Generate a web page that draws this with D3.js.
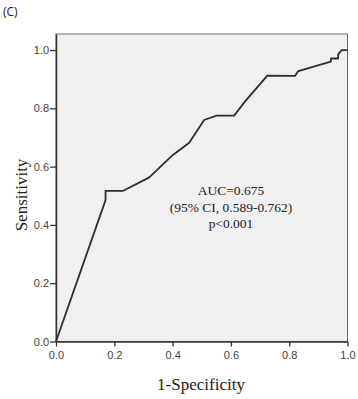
<!DOCTYPE html>
<html>
<head>
<meta charset="utf-8">
<script src="https://cdn.jsdelivr.net/npm/d3@7"></script>
<style>
  html, body { margin: 0; padding: 0; background: #fff; }
  svg { display: block; }
</style>
</head>
<body>
<svg id="chart" width="358" height="399"></svg>
<script>
// ROC curve points (1-specificity, sensitivity)
const fpr = [0, 0.170, 0.170, 0.231, 0.320, 0.401, 0.457, 0.508, 0.551, 0.611, 0.648, 0.725, 0.820, 0.831, 0.943, 0.943, 0.968, 0.968, 0.980, 1.0];
const tpr = [0, 0.485, 0.517, 0.517, 0.563, 0.640, 0.682, 0.760, 0.775, 0.775, 0.823, 0.912, 0.911, 0.928, 0.960, 0.971, 0.971, 0.985, 1.0, 1.0];
const xTicks = [0, 0.2, 0.4, 0.6, 0.8, 1.0];
const yTicks = [0, 0.2, 0.4, 0.6, 0.8, 1.0];
const annot = ["AUC=0.675", "(95% CI, 0.589-0.762)", "p<0.001"];

const W = 358, H = 399;
const m = { top: 34, right: 10.5, bottom: 57.5, left: 56 };
const iW = W - m.left - m.right;
const iH = H - m.top - m.bottom;

const svg = d3.select("#chart");
const g = svg.append("g").attr("transform", `translate(${m.left},${m.top})`);

const x = d3.scaleLinear().domain([0, 1]).range([0, iW]);
// frame runs a bit above 1.0, like the SPSS output
const y = d3.scaleLinear().domain([0, 1.055]).range([iH, 0]);

// plot background + frame
g.append("rect")
  .attr("x", 0).attr("y", 0).attr("width", iW).attr("height", iH)
  .attr("fill", "#f0f0f0").attr("stroke", "#6a6a6a").attr("stroke-width", 1);

// curve
const pts = fpr.map((v, i) => ({ x: v, y: tpr[i] }));
g.append("path").datum(pts)
  .attr("fill", "none").attr("stroke", "#2e2e2e").attr("stroke-width", 1.8)
  .attr("stroke-linejoin", "round")
  .attr("d", d3.line().x(d => x(d.x)).y(d => y(d.y)));

// axes
g.append("g")
  .attr("transform", `translate(0,${iH})`)
  .call(d3.axisBottom(x).tickValues(xTicks).tickFormat(d3.format(".1f")).tickSize(5).tickSizeOuter(0))
  .call(ax => {
    ax.select(".domain").attr("stroke", "#333").attr("stroke-width", 1.5);
    ax.selectAll(".tick line").attr("stroke", "#333").attr("stroke-width", 1.3);
    ax.selectAll(".tick text").style("fill", "#444").style("font-size", "11px")
      .style("font-family", "'Liberation Sans', Arial, sans-serif").attr("dy", "0.9em");
  });

g.append("g")
  .call(d3.axisLeft(y).tickValues(yTicks).tickFormat(d3.format(".1f")).tickSize(6).tickSizeOuter(0))
  .call(ax => {
    ax.select(".domain").attr("stroke", "#333").attr("stroke-width", 1.5);
    ax.selectAll(".tick line").attr("stroke", "#333").attr("stroke-width", 1.3);
    ax.selectAll(".tick text").style("fill", "#444").style("font-size", "11px")
      .style("font-family", "'Liberation Sans', Arial, sans-serif").attr("x", -7);
  });

// axis titles
svg.append("text")
  .attr("x", 201).attr("y", 390)
  .attr("text-anchor", "middle")
  .style("font-family", "'Liberation Serif', 'Times New Roman', serif").style("font-size", "17px").style("fill", "#222")
  .text("1-Specificity");

svg.append("text")
  .attr("transform", "translate(27,195) rotate(-90)")
  .attr("text-anchor", "middle")
  .style("font-family", "'Liberation Serif', 'Times New Roman', serif").style("font-size", "17px").style("fill", "#222")
  .text("Sensitivity");

// annotation
annot.forEach((t, i) => {
  svg.append("text")
    .attr("x", 231).attr("y", 195 + i * 16.7)
    .attr("text-anchor", "middle")
    .style("font-family", "'Liberation Serif', 'Times New Roman', serif").style("font-size", "13.5px").style("fill", "#222")
    .text(t);
});

// panel label
svg.append("text")
  .attr("x", 3).attr("y", 16)
  .style("font-family", "'Open Sans', 'DejaVu Sans', sans-serif").style("font-size", "12px").style("fill", "#222")
  .text("(C)");
</script>
</body>
</html>
